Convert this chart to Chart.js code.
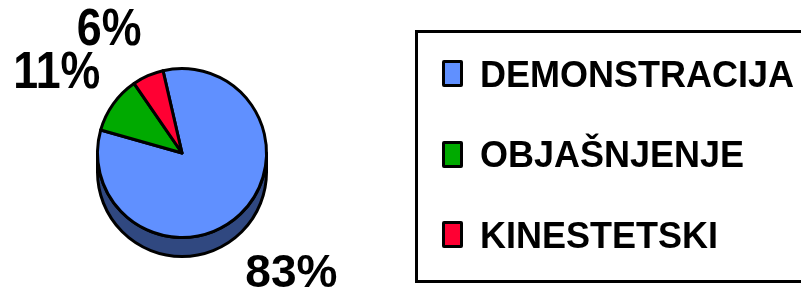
<!DOCTYPE html>
<html>
<head>
<meta charset="utf-8">
<script src="https://cdn.jsdelivr.net/npm/chart.js@4.4.1/dist/chart.umd.min.js"></script>
<style>
  html, body { margin: 0; padding: 0; background: #fff; overflow: hidden; }
  #wrap { position: relative; width: 801px; height: 298px; }
  #c { position: absolute; left: 0; top: 0; }
  #legend {
    position: absolute; left: 415px; top: 30px; width: 420px; height: 247px;
    border: 3px solid #000; background: transparent;
    font-family: "Liberation Sans", Arial, sans-serif; font-weight: bold;
  }
  .sw { position: absolute; left: 24px; width: 15px; height: 21px; border: 3px solid #000; border-radius: 2px; }
  .lt { position: absolute; left: 62px; font-size: 36px; line-height: 36px; white-space: nowrap; color: #000;
        transform: scaleY(1.04); transform-origin: 0 30px; }
</style>
</head>
<body>
<div id="wrap">
  <canvas id="c" width="801" height="298"></canvas>
  <div id="legend"></div>
</div>
<script>
const categories = ['DEMONSTRACIJA', 'OBJAŠNJENJE', 'KINESTETSKI'];
const values = [83, 11, 6];
const sliceColors = ['#6090FF', '#00AA00', '#FF0033'];

// HTML legend built from the arrays
const legendEl = document.getElementById('legend');
const rowStep = 80.5;
categories.forEach((name, i) => {
  const sw = document.createElement('div');
  sw.className = 'sw';
  sw.style.top = (27 + i * rowStep) + 'px';
  sw.style.background = sliceColors[i];
  legendEl.appendChild(sw);
  const t = document.createElement('div');
  t.className = 'lt';
  t.style.top = (23.5 + i * rowStep) + 'px';
  t.textContent = name;
  legendEl.appendChild(t);
});

function darken(hex, f) {
  const n = parseInt(hex.slice(1), 16);
  const r = Math.round(((n >> 16) & 255) * f);
  const g = Math.round(((n >> 8) & 255) * f);
  const b = Math.round((n & 255) * f);
  return `rgb(${r},${g},${b})`;
}

// 3D side (extrusion) drawn under the top face, from each arc element's geometry
const pieSide = {
  id: 'pieSide',
  beforeDatasetsDraw(chart, args, opts) {
    const ctx = chart.ctx;
    const meta = chart.getDatasetMeta(0);
    const depth = opts.depth;
    meta.data.forEach((arc, i) => {
      const { x, y, startAngle, endAngle, outerRadius } = arc.getProps(['x', 'y', 'startAngle', 'endAngle', 'outerRadius'], true);
      const color = darken(chart.data.datasets[0].backgroundColor[i], 0.5);
      for (let shift = -2; shift <= 2; shift++) {
        const s = Math.max(startAngle + shift * 2 * Math.PI, 0);
        const e = Math.min(endAngle + shift * 2 * Math.PI, Math.PI);
        if (e <= s) continue;
        ctx.save();
        ctx.beginPath();
        ctx.arc(x, y, outerRadius, s, e, false);
        ctx.lineTo(x + outerRadius * Math.cos(e), y + outerRadius * Math.sin(e) + depth);
        ctx.arc(x, y + depth, outerRadius, e, s, true);
        ctx.closePath();
        ctx.fillStyle = color;
        ctx.fill();
        ctx.lineWidth = 3;
        ctx.lineJoin = 'round';
        ctx.strokeStyle = '#000';
        ctx.stroke();
        ctx.restore();
      }
    });
  }
};

// percentage labels
const pieLabels = {
  id: 'pieLabels',
  afterDatasetsDraw(chart, args, opts) {
    const ctx = chart.ctx;
    const meta = chart.getDatasetMeta(0);
    const data = chart.data.datasets[0].data;
    const total = data.reduce((a, b) => a + b, 0);
    meta.data.forEach((arc, i) => {
      const { x, y, startAngle, endAngle } = arc.getProps(['x', 'y', 'startAngle', 'endAngle'], true);
      const mid = (startAngle + endAngle) / 2;
      const st = opts.styles[i];
      const px = x + st.dist * Math.cos(mid) + st.ox;
      const py = y + st.dist * Math.sin(mid) + st.oy;
      const txt = Math.round(data[i] / total * 100) + '%';
      ctx.save();
      ctx.translate(px, py);
      ctx.scale(st.sx, 1);
      ctx.font = `bold ${st.size}px "Liberation Sans", Arial, sans-serif`;
      ctx.fillStyle = '#000';
      ctx.textAlign = 'center';
      ctx.textBaseline = 'middle';
      ctx.fillText(txt, 0, 0);
      ctx.restore();
    });
  }
};

new Chart(document.getElementById('c'), {
  type: 'pie',
  data: {
    labels: categories,
    datasets: [{
      data: values,
      backgroundColor: sliceColors,
      borderColor: '#000',
      borderWidth: 3,
      borderJoinStyle: 'round'
    }]
  },
  options: {
    responsive: false,
    animation: false,
    rotation: -13,
    layout: { padding: { left: 96, top: 67, right: 533, bottom: 59 } },
    events: [],
    plugins: {
      legend: { display: false },
      tooltip: { enabled: false },
      pieSide: { depth: 19 },
      pieLabels: {
        styles: [
          { dist: 160, ox: -1, oy: 5, size: 46, sx: 1.0 },
          { dist: 149, ox: -4, oy: 7, size: 52, sx: 0.86 },
          { dist: 136, ox: -18, oy: 2, size: 52, sx: 0.86 }
        ]
      }
    }
  },
  plugins: [pieSide, pieLabels]
});
</script>
</body>
</html>
